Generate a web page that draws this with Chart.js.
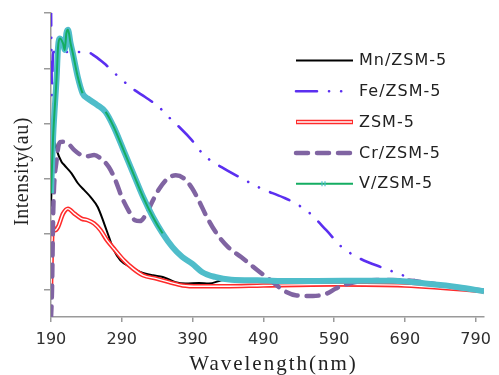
<!DOCTYPE html>
<html>
<head>
<meta charset="utf-8">
<script src="https://cdn.jsdelivr.net/npm/chart.js@4"></script>
<style>
  html, body { margin: 0; padding: 0; background: #fff; }
  #wrap { width: 499px; height: 375px; }
</style>
</head>
<body>
<div id="wrap"><canvas id="spectra" width="499" height="375"></canvas></div>
<script>
// axis ticks
const xTicks = [190, 290, 390, 490, 590, 690, 790];
const yTicks = [0, 0.2, 0.4, 0.6, 0.8, 1.0];

// Mn/ZSM-5
const mnWave = [190, 192, 195, 198, 205, 209, 219, 228, 237, 246, 256, 265, 272, 279, 288, 302, 316, 334, 348, 366, 380, 399, 413, 436, 490, 590, 690, 790, 802];
const mnInt = [0.30, 0.46, 0.534, 0.504, 0.461, 0.449, 0.420, 0.384, 0.359, 0.334, 0.298, 0.239, 0.189, 0.141, 0.105, 0.081, 0.063, 0.051, 0.045, 0.026, 0.021, 0.023, 0.021, 0.035, 0.033, 0.029, 0.022, -0.004, -0.007];

// Fe/ZSM-5
const feWave = [190, 191.4, 192.8, 216, 241, 252, 265, 286, 306, 323, 341, 362, 373, 389, 406, 431, 459, 486, 518, 535, 556, 579, 601, 627, 660, 687, 704, 736, 770, 802];
const feInt = [1.03, 0.703, 0.859, 0.859, 0.859, 0.844, 0.818, 0.768, 0.725, 0.696, 0.663, 0.609, 0.583, 0.540, 0.486, 0.442, 0.402, 0.366, 0.333, 0.312, 0.275, 0.214, 0.153, 0.111, 0.077, 0.051, 0.033, 0.014, 0.007, -0.004];

// ZSM-5
const zsmWave = [190, 191.5, 193, 196, 200, 207, 214, 223, 233, 242, 251, 260, 269, 279, 293, 306, 320, 339, 357, 376, 399, 436, 490, 590, 690, 790, 802];
const zsmInt = [0.004, 0.178, 0.225, 0.214, 0.226, 0.274, 0.292, 0.274, 0.256, 0.250, 0.238, 0.214, 0.178, 0.147, 0.105, 0.075, 0.051, 0.039, 0.026, 0.014, 0.011, 0.011, 0.014, 0.018, 0.014, -0.004, -0.007];

// Cr/ZSM-5
const crWave = [190, 191.4, 193.2, 197.9, 202.5, 207, 214, 223, 232.5, 241.7, 251, 260, 271.7, 281, 290, 299.4, 308.7, 315.6, 324.8, 334, 343.3, 354.8, 366.3, 378, 389.4, 398.7, 410.2, 424.1, 440.3, 458.7, 481.8, 500.2, 518.7, 537.2, 560.2, 578.8, 592.6, 606.5, 649.8, 687.2, 724.6, 770.3, 802];
const crInt = [-0.105, -0.004, 0.286, 0.467, 0.533, 0.534, 0.528, 0.504, 0.486, 0.482, 0.486, 0.474, 0.443, 0.395, 0.334, 0.286, 0.250, 0.247, 0.274, 0.322, 0.365, 0.401, 0.413, 0.401, 0.366, 0.322, 0.262, 0.202, 0.153, 0.117, 0.069, 0.033, -0.004, -0.022, -0.024, -0.016, 0.003, 0.018, 0.034, 0.033, 0.022, 0.004, -0.004];

// V/ZSM-5
const vWave = [190, 193, 198, 200, 202.5, 207, 209.4, 211.7, 214, 217.7, 220.9, 227.8, 234.7, 241.7, 255.5, 267.1, 278.6, 292.5, 306.3, 320.2, 334, 347.9, 361.7, 375.6, 389.4, 403.3, 421.7, 444.8, 481.8, 527.9, 604.1, 673.4, 719.1, 765.8, 802];
const vInt = [0.348, 0.552, 0.769, 0.878, 0.908, 0.890, 0.866, 0.926, 0.939, 0.890, 0.854, 0.769, 0.709, 0.691, 0.667, 0.642, 0.588, 0.504, 0.419, 0.334, 0.262, 0.202, 0.153, 0.117, 0.093, 0.063, 0.045, 0.035, 0.033, 0.030, 0.031, 0.031, 0.021, 0.008, -0.007];

const vGreen = '#14ad62';
const vTeal = '#4fbdca';
const axisGray = '#9a9a9a';

function pairs(xs, ys) {
  return xs.map((x, i) => ({ x: x, y: ys[i] }));
}

// legend and axis titles drawn by hand: the samples need double lines and
// markers, the titles need wider letter spacing than Chart.js offers
const overlay = {
  id: 'overlay',
  afterDraw(chart) {
    const ctx = chart.ctx;
    const area = chart.chartArea;
    const items = chart.data.datasets.filter((d) => !d.helper);
    ctx.save();
    ctx.font = '16px "DejaVu Sans"';
    ctx.textBaseline = 'middle';
    ctx.fillStyle = '#222';
    items.forEach((d, i) => {
      const y = 60.5 + i * 30.8;
      ctx.beginPath();
      ctx.setLineDash(d.borderDash || []);
      ctx.lineCap = d.borderCapStyle || 'butt';
      ctx.strokeStyle = d.borderColor;
      ctx.lineWidth = d.borderWidth;
      ctx.moveTo(296, y);
      ctx.lineTo(353, y);
      ctx.stroke();
      ctx.setLineDash([]);
      if (d.innerColor) {
        ctx.beginPath();
        ctx.strokeStyle = d.innerColor;
        ctx.lineWidth = 1.5;
        ctx.moveTo(297, y);
        ctx.lineTo(352, y);
        ctx.stroke();
      }
      if (d.markerColor) {
        ctx.beginPath();
        ctx.strokeStyle = d.markerColor;
        ctx.lineWidth = 1.2;
        ctx.moveTo(322, y - 2.5); ctx.lineTo(322, y + 2.5);
        ctx.moveTo(325, y - 2.5); ctx.lineTo(325, y + 2.5);
        ctx.stroke();
      }
      ctx.letterSpacing = '1px';
      ctx.fillText(d.label, 359, y + 0.5);
      ctx.letterSpacing = '0px';
    });

    ctx.fillStyle = '#222';
    ctx.textAlign = 'center';
    ctx.font = '21px "Liberation Serif"';
    ctx.letterSpacing = '2px';
    ctx.fillText('Wavelength(nm)', (area.left + area.right) / 2 + 6, 364);
    ctx.letterSpacing = '0.5px';
    ctx.font = '20px "Liberation Serif"';
    ctx.translate(22.5, 171.5);
    ctx.rotate(-Math.PI / 2);
    ctx.fillText('Intensity(au)', 0, 0);
    ctx.restore();
  }
};

new Chart(document.getElementById('spectra'), {
  type: 'line',
  data: {
    datasets: [
      { label: 'Mn/ZSM-5', data: pairs(mnWave, mnInt), borderColor: '#000', borderWidth: 2, order: 6 },
      { label: 'Fe/ZSM-5', data: pairs(feWave, feInt), borderColor: '#5b2ff0', borderWidth: 2.6,
        borderDash: [21, 12, 0.1, 12, 0.1, 12], borderCapStyle: 'round', order: 5 },
      { label: 'ZSM-5', data: pairs(zsmWave, zsmInt), borderColor: '#ff2b2b', borderWidth: 4.5,
        innerColor: '#fff', order: 4 },
      { label: 'ZSM-5 core', data: pairs(zsmWave, zsmInt), borderColor: '#fff', borderWidth: 1.4,
        helper: true, order: 3 },
      { label: 'Cr/ZSM-5', data: pairs(crWave, crInt), borderColor: '#8064a2', borderWidth: 4.5,
        borderDash: [12, 9], borderCapStyle: 'round', order: 2 },
      { label: 'V/ZSM-5 markers', data: pairs(vWave, vInt), borderColor: vTeal, borderWidth: 6,
        helper: true, order: 1 },
      { label: 'V/ZSM-5', data: pairs(vWave, vInt), borderColor: vGreen, borderWidth: 2,
        markerColor: vTeal, order: 0,
        segment: {
          borderColor: (c) => Math.abs(c.p1.y - c.p0.y) > 1.5 * Math.abs(c.p1.x - c.p0.x) ? vGreen : vTeal
        } }
    ]
  },
  options: {
    responsive: false,
    animation: false,
    devicePixelRatio: 1,
    layout: { padding: { top: 13, right: 7, left: 0, bottom: 0 } },
    elements: {
      point: { radius: 0 },
      line: { cubicInterpolationMode: 'monotone' }
    },
    plugins: {
      legend: { display: false },
      tooltip: { enabled: false }
    },
    scales: {
      x: {
        type: 'linear',
        min: 190,
        max: 802,
        afterBuildTicks: (s) => { s.ticks = xTicks.map((v) => ({ value: v })); },
        afterFit: (s) => { s.height = 58; },
        grid: { drawOnChartArea: false, tickLength: 5, color: axisGray, lineWidth: 1.5 },
        border: { color: axisGray, width: 1.5 },
        ticks: {
          padding: 8,
          color: '#2e2e2e',
          font: { family: 'DejaVu Sans', size: 16 },
          callback: (v) => String(v)
        }
      },
      y: {
        min: -0.1,
        max: 1.0,
        afterBuildTicks: (s) => { s.ticks = yTicks.map((v) => ({ value: v })); },
        afterFit: (s) => { s.width = 51; },
        grid: { drawOnChartArea: false, tickLength: 7, color: axisGray, lineWidth: 1.5 },
        border: { color: axisGray, width: 1.5 },
        ticks: { display: false }
      }
    }
  },
  plugins: [overlay]
});
</script>
</body>
</html>
